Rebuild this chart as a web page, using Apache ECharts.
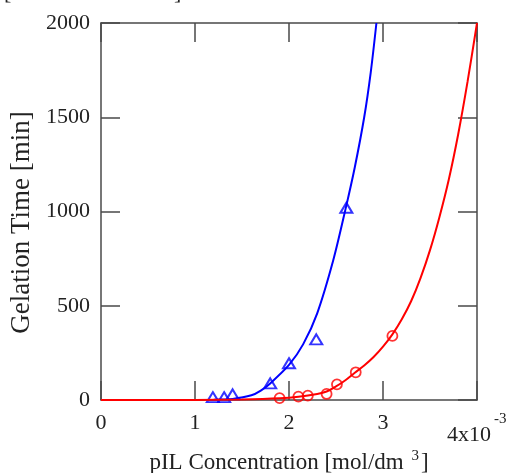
<!DOCTYPE html>
<html>
<head>
<meta charset="utf-8">
<script src="https://cdn.jsdelivr.net/npm/echarts@6/dist/echarts.min.js"></script>
<style>
    html, body { margin: 0; padding: 0; background: #fff; }
    #chart { width: 511px; height: 473px; }
</style>
</head>
<body>
<div id="chart"></div>
<script>
// measured points (x in 10^-3 mol/dm3, y in min)
var triPoints = [[1.19, 15], [1.31, 15], [1.40, 30], [1.80, 88], [2.00, 195], [2.29, 322], [2.61, 1020]];
var circPoints = [[1.90, 10], [2.10, 18], [2.20, 23], [2.40, 32], [2.51, 83], [2.71, 147], [3.10, 340]];

// fitted curves
var blueCurve = [[1.15, 0], [1.2, 1], [1.4, 6], [1.6, 25], [1.7, 50], [1.8, 88], [2.0, 186], [2.15, 295],
    [2.3, 460], [2.47, 740], [2.6, 1010], [2.7, 1235], [2.8, 1500], [2.87, 1740], [2.93, 2000]];
var redCurve = [[0, 0], [0.5, 0], [1.0, 0.5], [1.5, 3], [1.9, 9], [2.1, 17], [2.3, 32], [2.4, 45], [2.5, 72],
    [2.6, 105], [2.7, 145], [2.8, 183], [2.9, 228], [3.0, 283], [3.1, 348], [3.2, 428], [3.3, 525], [3.4, 648],
    [3.5, 795], [3.6, 970], [3.7, 1170], [3.8, 1410], [3.9, 1690], [4.0, 2000]];

var xTicks = [0, 1, 2, 3, 4];
var yTicks = [0, 500, 1000, 1500, 2000];

var serif = 'Liberation Serif';
var axisCol = '#4a4a4a';

var chart = echarts.init(document.getElementById('chart'));

function boxAxis(pos, showLabel) {
    return {
        type: 'value',
        position: pos,
        min: 0,
        axisLine: { show: true, onZero: false, lineStyle: { color: axisCol, width: 1.5 } },
        axisTick: { show: true, inside: true, length: 19, lineStyle: { color: axisCol, width: 1.5 } },
        splitLine: { show: false },
        axisLabel: { show: showLabel }
    };
}

var xMain = boxAxis('bottom', true);
xMain.max = xTicks[xTicks.length - 1];
xMain.interval = 1;
xMain.axisLabel = {
    show: true, color: '#222', fontFamily: serif, fontSize: 22, margin: 12,
    formatter: function (v) { return v === 4 ? '' : String(v); }
};
xMain.name = '{a|pIL Concentration [mol/dm }{b|3}{a|]}';
xMain.nameLocation = 'middle';
xMain.nameGap = 49;
xMain.nameTextStyle = {
    rich: {
        a: { fontFamily: serif, fontSize: 23, color: '#222' },
        b: { fontFamily: serif, fontSize: 15, color: '#222', verticalAlign: 'top', padding: [0, 2, 12, 2] }
    }
};

var xTop = boxAxis('top', false);
xTop.max = 4;
xTop.interval = 1;

var yMain = boxAxis('left', true);
yMain.max = yTicks[yTicks.length - 1];
yMain.interval = 500;
yMain.axisLabel = {
    show: true, color: '#222', fontFamily: serif, fontSize: 22, margin: 11,
    formatter: function (v) { return String(v); }
};
yMain.name = 'Gelation Time [min]';
yMain.nameLocation = 'middle';
yMain.nameGap = 61;
yMain.nameTextStyle = { fontFamily: serif, fontSize: 27, color: '#222', padding: [0, 22, 0, 0] };

var yRight = boxAxis('right', false);
yRight.max = 2000;
yRight.interval = 500;

var option = {
    animation: false,
    grid: { left: 101, right: 34, top: 23, bottom: 73, outerBoundsMode: 'none', containLabel: false },
    xAxis: [xMain, xTop],
    yAxis: [yMain, yRight],
    graphic: [
        { type: 'text', left: 447, top: 424, style: { text: '4x10', font: '22px "Liberation Serif"', fill: '#222' } },
        { type: 'text', left: 494, top: 412, style: { text: '-3', font: '15px "Liberation Serif"', fill: '#222' } },
        { type: 'text', left: 4, top: -18, style: { text: '[', font: '22px "Liberation Serif"', fill: '#222' } },
        { type: 'text', left: 174, top: -18, style: { text: ']', font: '22px "Liberation Serif"', fill: '#222' } }
    ],
    series: [{
        name: 'blue fit',
        type: 'line',
        data: blueCurve,
        smooth: 0.3,
        showSymbol: false,
        lineStyle: { color: '#0000ff', width: 2 }
    }, {
        name: 'red fit',
        type: 'line',
        data: redCurve,
        smooth: 0.3,
        showSymbol: false,
        lineStyle: { color: '#ff0000', width: 2 }
    }, {
        name: 'triangles',
        type: 'scatter',
        data: triPoints,
        symbol: 'triangle',
        symbolSize: [12, 10],
        itemStyle: { color: 'transparent', borderColor: '#0000ff', borderWidth: 2 }
    }, {
        name: 'circles',
        type: 'scatter',
        data: circPoints,
        symbol: 'circle',
        symbolSize: 10,
        itemStyle: { color: 'transparent', borderColor: '#ff0000', borderWidth: 1.8 }
    }]
};
chart.setOption(option);
</script>
</body>
</html>
